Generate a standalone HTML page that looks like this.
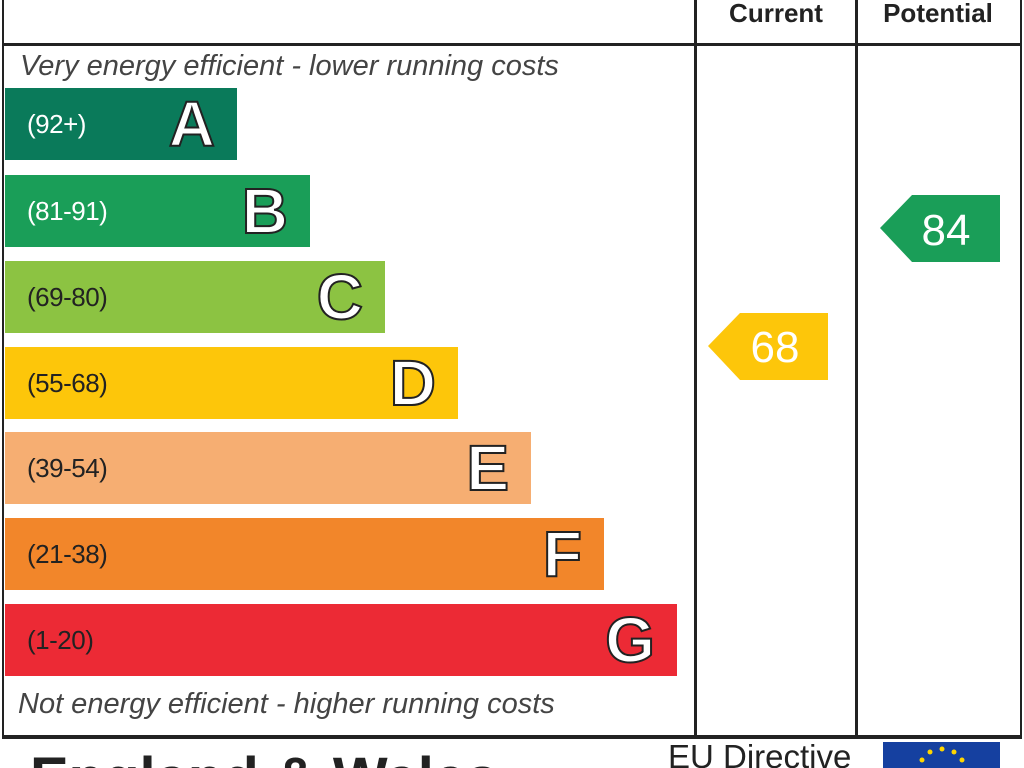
<!DOCTYPE html>
<html><head><style>
html,body{margin:0;width:1024px;height:768px;overflow:hidden}
body{background:#fff;font-family:"Liberation Sans",sans-serif}
#w{position:relative;width:1024px;height:768px;overflow:hidden}
.a{position:absolute}
.bar{position:absolute;left:5px;height:72px}
.rng{position:absolute;left:22px;top:21px;font-size:26px;color:#222;letter-spacing:-0.5px}
.L{position:absolute;right:22px;top:0px;font-size:64px;font-weight:bold;color:#fff;-webkit-text-stroke:2px #222;line-height:72px}
.it{font-style:italic;font-size:29px;color:#444;white-space:nowrap}
</style></head><body><div id="w">
<div class="a" style="left:2px;top:-4px;width:1016px;height:737px;border:2px solid #222;border-bottom:4px solid #222"></div>
<div class="a" style="left:2px;top:43px;width:1018px;height:3px;background:#222"></div>
<div class="a" style="left:694px;top:0;width:3px;height:735px;background:#222"></div>
<div class="a" style="left:855px;top:0;width:3px;height:735px;background:#222"></div>
<div class="a" style="left:697px;top:-2px;width:158px;text-align:center;font-size:26px;font-weight:bold;color:#222">Current</div>
<div class="a" style="left:858px;top:-2px;width:160px;text-align:center;font-size:26px;font-weight:bold;color:#222">Potential</div>
<div class="a it" style="left:20px;top:50px">Very energy efficient - lower running costs</div>
<div class="a it" style="left:18px;top:688px">Not energy efficient - higher running costs</div>
<div class="bar" style="top:88px;width:232px;background:#0a7a5a"><span class="rng" style="color:#fff">(92+)</span><span class="L">A</span></div>
<div class="bar" style="top:175px;width:305px;background:#1a9e58"><span class="rng" style="color:#fff">(81-91)</span><span class="L">B</span></div>
<div class="bar" style="top:261px;width:380px;background:#8cc342"><span class="rng">(69-80)</span><span class="L">C</span></div>
<div class="bar" style="top:347px;width:453px;background:#fdc60a"><span class="rng">(55-68)</span><span class="L">D</span></div>
<div class="bar" style="top:432px;width:526px;background:#f6ae72"><span class="rng">(39-54)</span><span class="L">E</span></div>
<div class="bar" style="top:518px;width:599px;background:#f2862a"><span class="rng">(21-38)</span><span class="L">F</span></div>
<div class="bar" style="top:604px;width:672px;background:#ec2a35"><span class="rng">(1-20)</span><span class="L">G</span></div>
<svg class="a" style="left:0;top:0" width="1024" height="768">
<polygon points="708,346 740,313 828,313 828,380 740,380" fill="#fdc60a"/>
<text x="775" y="362" font-size="44" fill="#fff" font-family="Liberation Sans" text-anchor="middle">68</text>
<polygon points="880,228 912,195 1000,195 1000,262 912,262" fill="#1a9e58"/>
<text x="946" y="245" font-size="44" fill="#fff" font-family="Liberation Sans" text-anchor="middle">84</text>
<rect x="883" y="742" width="117" height="30" fill="#1540a0"/>
<g fill="#ffd600"><circle cx="930" cy="752" r="2.5"/><circle cx="942" cy="749" r="2.5"/><circle cx="954" cy="752" r="2.5"/><circle cx="922" cy="760" r="2.5"/><circle cx="962" cy="760" r="2.5"/></g>
</svg>
<div class="a" style="left:668px;top:738px;font-size:33px;color:#222;white-space:nowrap">EU Directive</div>
<div class="a" style="left:30px;top:744px;font-size:58px;font-weight:bold;color:#222;white-space:nowrap;height:24px;overflow:hidden;line-height:70px">England &amp; Wales</div>
</div></body></html>
